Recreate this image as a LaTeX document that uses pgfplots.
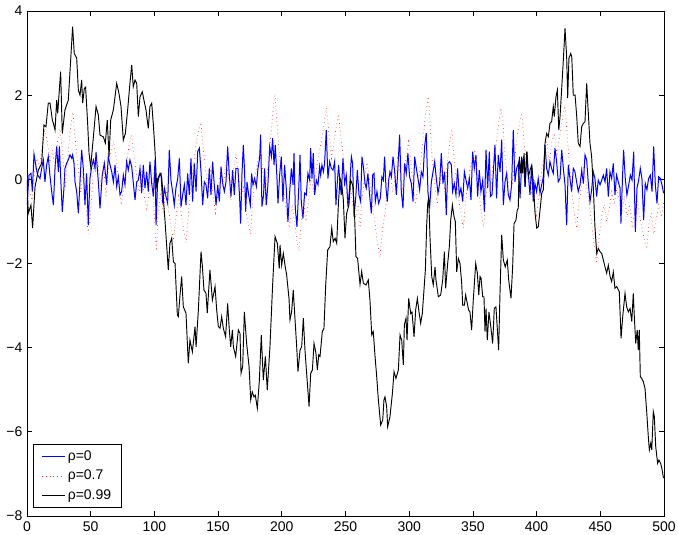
\documentclass[border=0pt]{standalone}
\usepackage{fontspec}
\setmainfont{Liberation Sans}
\usepackage{pgfplots}
\pgfplotsset{compat=1.18}
\begin{document}
\begin{tikzpicture}
\begin{axis}[
  scale only axis, width=477.75pt, height=378.75pt,
  xmin=0, xmax=500, ymin=-8, ymax=4,
  xtick={0,50,...,500},
  xticklabels={0,50,100,150,200,250,300,350,400,450,500},
  ytick={-8,-6,-4,-2,0,2,4},
  yticklabels={−8,−6,−4,−2,0,2,4},
  tick align=inside, tick pos=both, major tick length=4pt,
  tick style={black, line width=0.5pt},
  axis line style={line width=0.6pt},
  ticklabel style={font=\fontsize{10.5}{12.6}\selectfont},
  xticklabel style={yshift=-1pt},
  legend style={at={(0.0094,0.0158)}, anchor=south west, draw=black, line width=0.6pt,
    font=\fontsize{10.5}{12.6}\selectfont, row sep=2pt, inner xsep=6pt, inner ysep=2.5pt},
  legend cell align=left,
]
\addplot[blue, line width=0.75pt, no marks] coordinates {
(0,-0.61)(1.57,0.10)(3.14,0.14)(4.19,-0.29)(5.49,0.60)(7.06,0.30)(8.37,0.10)(10.2,0.02)(11.5,0.26)(12.8,0.46)(14.1,-0.06)(15.4,0.34)(16.7,0.54)(18.1,0.06)(19.4,-0.29)(20.7,-0.61)(22.0,0.26)(23.3,0.78)(24.6,0.18)(25.4,0.78)(26.7,-0.13)(27.7,-0.77)(29.0,-0.21)(29.8,0.26)(31.1,0.38)(32.4,0.46)(33.7,0.58)(35.1,0.50)(35.8,0.58)(36.9,0.38)(37.7,-0.06)(39.0,-0.29)(40.3,-0.81)(41.6,-0.06)(42.9,0.70)(44.2,0.26)(45.5,-0.61)(46.8,0.14)(48.1,-1.09)(49.4,0.02)(50.8,0.30)(52.1,0.46)(53.4,0.26)(54.2,0.65)(56.0,-0.06)(57.3,-0.69)(59.1,0.10)(60.7,0.38)(62.5,-0.13)(63.8,0.54)(65.2,0.34)(66.5,0.18)(67.8,-0.06)(69.1,0.34)(70.4,-0.17)(71.7,0.06)(73.0,-0.37)(74.3,-0.29)(75.6,0.10)(76.9,-0.13)(78.2,0.42)(79.5,0.22)(80.8,0.46)(82.2,0.30)(83.5,-0.10)(84.8,-0.49)(86.1,-0.06)(87.4,-0.02)(88.7,0.26)(90.0,-0.33)(91.3,0.34)(92.6,-0.21)(93.9,0.18)(95.2,-0.29)(96.5,0.42)(97.9,-0.10)(99.2,-0.41)(100.5,0.46)(101.3,-1.09)(102.6,0.02)(103.9,0.10)(105.2,0.14)(106.5,-0.57)(107.8,-0.21)(109.1,-0.41)(110.4,-0.57)(111.7,0.70)(113.0,-0.02)(114.3,-0.29)(115.6,-0.61)(116.9,-0.21)(118.3,0.02)(119.6,0.50)(120.9,-0.65)(122.2,-0.37)(123.5,-0.13)(124.8,-0.61)(126.1,0.14)(127.4,-0.37)(128.7,0.50)(130.0,-0.53)(131.3,0.38)(132.7,-0.29)(134.0,0.66)(135.3,0.74)(136.6,0.18)(137.9,-0.61)(139.2,-0.06)(140.5,-0.13)(141.8,-0.45)(143.1,0.26)(144.4,-0.37)(145.7,0.42)(147.0,-0.13)(148.4,-0.61)(149.7,-0.13)(151.0,-0.53)(152.3,0.30)(153.6,-0.10)(154.9,-0.29)(156.2,-0.06)(157.5,0.78)(158.8,0.10)(160.1,-0.41)(161.4,0.22)(162.7,-0.37)(164.0,0.26)
(165.6,0.26)(166.9,-0.45)(167.7,-1.05)(168.7,0.10)(169.8,0.82)(170.8,0.18)(171.6,-0.77)(172.7,-0.06)(174.0,-0.37)(175.3,-0.61)(176.3,0.14)(177.4,-0.13)(178.7,0.02)(180.0,-0.17)(181.3,0.26)(182.6,0.50)(183.4,1.06)(184.4,-0.65)(185.7,-0.37)(186.5,0.26)(187.8,-0.61)(189.1,-0.13)(190.5,0.78)(191.8,0.54)(192.8,0.98)(193.9,0.34)(194.9,0.82)(196.2,0.02)(197.0,-0.57)(198.3,0.10)(199.6,0.54)(200.9,-0.53)(202.2,0.34)(203.5,-0.21)(204.8,-1.01)(206.2,-0.29)(207.5,0.26)(208.8,-0.13)(209.6,0.62)(210.6,-0.69)(211.9,-1.13)(213.2,-0.29)(214.3,0.58)(215.3,-0.53)(216.6,-0.93)(217.9,-0.33)(219.2,-0.37)(220.5,0.14)(221.9,-0.02)(222.6,0.74)(223.7,0.02)(224.7,0.62)(225.8,-0.37)(227.1,-0.02)(228.4,-0.13)(229.7,0.30)(230.5,0.10)(231.5,0.34)(232.6,0.18)(233.6,0.38)(234.9,1.17)(236.2,0.02)(237.6,0.42)(238.9,0.26)(240.2,0.22)(241.5,0.42)(242.5,-0.61)(243.6,-0.06)(244.6,0.34)(245.7,-0.10)(246.7,-0.37)(248.0,0.50)(249.3,-0.10)(250.6,0.10)(251.9,-0.65)(253.2,-0.21)(254.6,0.54)(255.6,0.38)(256.7,-0.89)(258.0,-0.45)(259.3,0.22)(260.6,-0.37)(261.9,-0.53)(262.9,0.54)(264.2,0.26)(265.3,-0.10)(266.3,-0.21)(267.6,0.14)(268.9,-0.37)(270.3,-0.81)(271.3,0.10)(272.4,0.14)(273.4,-0.53)(274.7,-0.29)(276.0,-0.57)(277.3,-0.45)(278.6,0.06)(279.7,-0.02)(280.7,0.54)(281.8,-0.21)(282.8,-0.53)(283.9,-0.02)(284.9,0.18)(286.0,0.06)(287.3,0.54)(288.6,0.18)(289.9,-0.37)(291.2,0.30)(292.5,1.06)(293.8,-0.29)(295.1,-0.69)(296.4,0.38)(297.7,0.14)(299.0,0.62)(300.3,0.06)(301.7,-0.10)(303.0,-0.53)(304.3,0.54)(305.6,0.26)(306.9,0.02)(308.2,-0.25)(309.5,0.18)(310.8,0.06)(312.1,0.78)(313.4,1.10)(314.7,-0.29)(316.0,-0.69)(317.4,-0.06)(318.7,0.18)(320.0,0.42)(321.3,0.02)(322.6,-0.33)(323.9,-0.10)(325.2,0.62)(326.5,-0.10)(327.8,0.18)(329.1,-0.85)(330.4,0.38)(331.7,0.42)(333.1,0.34)
(334.1,-0.29)(335.4,-0.10)(336.7,-0.37)(338.0,0.26)(339.3,-0.37)(340.6,-0.21)(342.0,-0.53)(343.3,0.18)(344.6,-0.02)(345.9,-0.21)(347.2,0.02)(348.5,-0.49)(349.8,0.66)(351.1,0.26)(352.4,0.58)(353.7,-0.41)(355.0,0.22)(356.3,-0.29)(357.7,-0.02)(359.0,-0.77)(360.3,0.70)(361.6,-0.21)(362.9,0.66)(363.7,-0.41)(365.0,-0.37)(366.3,0.30)(367.3,0.82)(368.6,-0.45)(369.9,0.58)(371.3,0.18)(372.6,0.94)(373.9,-0.61)(375.2,-0.06)(376.5,0.14)(377.8,-0.37)(379.1,-0.49)(380.4,-0.13)(381.7,1.17)(383.0,-0.06)(384.3,0.26)(385.7,0.38)(387.0,-0.45)(388.3,0.38)(389.6,0.50)(390.9,-0.17)(392.5,0.66)(393.5,0.14)(394.8,-0.37)(396.1,0.34)(397.4,-0.53)(398.7,-0.10)(400.0,-0.29)(401.3,0.02)(402.7,-0.33)(404.0,-0.13)(405.3,0.06)(406.6,0.82)(407.9,0.26)(409.2,0.10)(410.5,0.42)(411.8,0.26)(413.1,0.14)(414.4,0.74)(415.7,0.42)(417.0,-0.06)(418.4,0.02)(419.7,0.70)(421.0,0.26)(422.3,-0.13)(423.6,-1.09)(424.9,0.34)(426.2,0.02)(427.5,-0.29)(428.8,0.26)(430.1,0.18)(431.4,-0.06)(432.7,-0.29)(434.1,-0.13)(435.4,0.22)(436.7,-0.10)(438.0,0.58)(439.3,0.46)(440.6,-0.10)(441.9,-0.53)(443.2,-0.25)(444.5,0.18)(445.8,0.02)(447.1,-0.41)(448.4,-0.02)(449.8,-0.13)(451.1,-0.02)(452.4,0.10)(453.7,-0.06)(455.0,0.26)(456.3,-0.41)(457.6,0.18)(458.9,0.02)(460.2,0.38)(461.5,-0.37)(462.8,0.10)(464.1,-0.06)(465.5,-0.21)(466.2,-1.05)(467.5,0.10)(468.3,0.70)(469.6,0.02)(470.9,-0.37)(472.3,-0.13)(473.6,0.10)(474.9,-0.02)(476.2,0.66)(477.5,-1.25)(478.8,-0.21)(480.1,-0.02)(481.4,0.26)(482.7,0.02)(484.0,-0.97)(485.3,-0.10)(486.6,-0.25)(487.9,0.02)(489.3,0.10)(490.6,-0.29)(491.9,0.78)(493.2,-0.13)(494.5,-0.57)(495.8,0.06)(497.1,0.02)(498.4,-0.13)(499.7,-0.33)
};
\addlegendentry{ρ=0}
\addplot[red!85, line width=0.5pt, dash pattern=on 0.5pt off 2.4pt, no marks] coordinates {
(0,0.1)(2,-0.3)(4,-0.5)(6,0.2)(8,0.5)(10,0.3)(12,0.8)(14,1.2)(16,0.9)(18,0.4)(20,0.7)(22,0.2)(24,0.9)(26,1.2)(28,0.6)(30,-0.2)(32,0.5)(34,1.2)(36,1.6)(38,0.9)(40,0.3)(42,-0.3)(44,0.2)(46,-0.5)(48,-1.3)(50,-0.8)(52,0.2)(54,0.6)(56,0.3)(58,-0.2)(60,0.4)(62,-0.4)(64,0.3)(66,0.7)(68,0.9)(70,0.5)(72,-0.1)(74,-0.6)(76,-0.2)(78,0.3)(80,0.8)(82,1.05)(84,0.6)(86,0.1)(88,-0.3)(90,0.2)(92,-0.4)(94,-0.7)(96,-0.3)(98,0.1)(100,-0.9)(101.5,-1.7)(103,-0.8)(105,-0.3)(107,-0.8)(109,-0.2)(111,-0.7)(113,-1.1)(115,-1.45)(117,-0.9)(119,-0.4)(121,-0.8)(123,-1.2)(125,-1.5)(127,-0.7)(129,-0.1)(131,0.4)(133,0.9)(135,1.2)(136.5,1.35)(138,0.8)(140,0.3)(142,-0.2)(144,0.3)(146,-0.4)(148,-0.8)(150,-0.3)(152,0.2)(154,-0.2)(156,0.4)(158,0.1)(160,-0.5)(162,0.2)(164,0.6)(166,0.1)(168,-0.4)(170,-0.2)(172,-0.8)(174,-1.1)(175.5,-1.3)(177,-0.6)(179,0.1)(181,0.4)(183,0.7)(185,0.2)(187,-0.3)(189,0.3)(191,0.9)(193,1.6)(194.7,2.04)(196,1.4)(198,0.6)(200,0.1)(202,-0.4)(204,-0.9)(206,-1.15)(208,-0.6)(210,-1.0)(212,-1.5)(213.5,-1.7)(215,-1.1)(217,-0.5)(219,-1.0)(221,-0.5)(223,0.1)(225,-0.3)(227,0.2)(229,0.6)(231,0.9)(233,1.3)(235,1.7)(237,1.1)(239,0.5)(241,0.9)(243,1.3)(244.5,1.55)(246,1.1)(248,0.6)(250,-0.1)(252,-0.6)(254,-0.2)(256,-0.7)(258,-0.9)(260,-0.6)(261.5,-1.15)(263,-0.5)(265,0.1)(267,0.4)(269,-0.1)(271,-0.6)(273,-1.0)(275,-1.5)(277,-1.85)(279,-1.2)(281,-0.8)(283,-0.3)(285,0.2)(287,-0.3)(289,0.1)(291,0.5)(293,0.2)(295,-0.3)(297,0.4)(299.5,0.9)(301,0.5)(303,-0.2)(305,-0.6)(307,-0.1)(309,0.4)(311,1.0)(313,1.6)(315,1.96)(316.5,1.3)(318,0.5)(320,-0.1)(322,-0.6)(324,-0.2)(326,0.3)(328,-0.3)(330,0.4)(332,0.9)(333.5,1.2)(335,0.6)(337,-0.1)(339,-0.5)(341,-0.9)(342.5,-1.15)(344,-0.6)(346,-0.1)(348,0.3)(350,0.5)(351.5,0.7)(353,0.2)(355,-0.4)(357,-0.9)(358.5,-1.15)(360,-0.5)(362,0.1)(364,-0.2)(366,0.4)(368,0.8)(370,1.3)(372,1.7)(373.5,1.4)(375,0.6)(377,0.1)(379,-0.4)(381,-0.1)(383,0.5)(385,1.1)(387,1.4)(388.5,1.57)(390,0.9)(392,0.4)(394,0.1)(396,-0.3)(398,-0.6)(400,-0.85)(402,-0.3)(404,0.2)(406,0.6)(408,0.9)(410,0.4)(412,0.9)(414,1.1)(416,0.6)(418,1.0)(420,1.4)(422.3,1.75)(424,1.0)(426,0.3)(428,-0.4)(430,-0.9)(431.5,-1.15)(433,-0.6)(435,-0.2)(437,0.3)(439,-0.1)(441,-0.5)(443,-1.0)(445,-1.5)(447,-2.0)(449,-1.4)(451,-0.9)(453,-0.6)(455,-1.0)(457,-0.7)(459,-0.3)(461,-0.6)(463,-0.2)(465,-0.5)(467,-0.8)(469,-0.4)(471,-0.9)(473,-0.6)(475,-1.1)(477,-0.8)(479,-0.5)(481,-0.9)(483,-1.2)(485,-1.5)(486.5,-1.65)(488,-1.1)(490,-0.8)(492,-1.3)(494,-0.9)(496,-0.6)(498,-0.9)(500,-0.5)
};
\addlegendentry{ρ=0.7}
\addplot[black, line width=0.7pt, no marks] coordinates {
(0,-0.02)(1,-0.81)(3.1,-0.61)(4.4,-1.16)(6.3,-0.18)(8.9,0.22)(11.5,0.38)(13.3,1.29)(14.9,1.25)(16.7,1.81)(18.1,1.81)(19.9,1.41)(20.7,1.33)(22,1.17)(23.3,1.88)(24.1,1.57)(26.4,2.56)(27.7,1.09)(29.8,1.65)(32.4,1.88)(34.3,2.84)(35.8,3.63)(37.1,2.99)(39,2.88)(40.3,2.12)(41.6,2.0)(42.9,2.36)(43.7,1.81)(45,2.16)(46,2.19)(47.6,1.33)(48.7,0.62)(50,0.3)(52,0.97)(54.2,1.73)(56,1.53)(57.3,1.05)(59.9,1.01)(61.5,0.86)(63,1.41)(64.4,0.54)(65.7,1.41)(67.8,1.65)(70.4,2.28)(72.2,2.04)(73.8,1.73)(75.6,0.93)(77.2,1.09)(79,1.65)(80.8,2.28)(82.2,2.72)(83.4,2.2)(84.8,2.36)(86.1,2.28)(87.4,1.49)(88.7,1.96)(90.5,2.08)(91.8,1.88)(93.4,1.65)(95.2,1.21)(96.5,1.73)(97.9,1.81)(99.2,1.29)(100.5,0.66)(101.8,-0.18)(103.1,-0.02)(104.4,0.14)(105.7,0.06)(107.5,-0.65)
(108.3,-0.97)(110.9,-2.15)(112.2,-1.52)(113.6,-1.40)(114.9,-1.96)(116.2,-2.0)(118.0,-3.22)(118.8,-3.26)(120.1,-2.75)(121.4,-2.31)(122.7,-3.03)(124.8,-3.18)(126.6,-4.37)(127.9,-3.82)(129.8,-4.1)(131.9,-3.5)(132.7,-3.98)(134.5,-3.11)(136.6,-1.72)(137.6,-2.04)(138.9,-2.63)(140.5,-2.71)(141.5,-3.18)(143.6,-2.15)(145.5,-2.87)(147.6,-2.55)(148.9,-3.11)(150.2,-3.5)(151.5,-3.54)(152.8,-3.26)(154.1,-3.54)(155.9,-3.74)(157.5,-2.95)(158.8,-3.58)(159.9,-3.98)(161.2,-3.58)(162,-3.98)(163.8,-4.21)(165.9,-3.58)(167.2,-3.66)(168,-4.61)(169.3,-4.45)(170.6,-3.15)(172.4,-3.9)(174.3,-4.45)(175.6,-5.24)(176.8,-5.05)(178.2,-5.17)(179.2,-5.13)(180.8,-5.44)(182.4,-4.77)(183.9,-3.7)(185.5,-4.77)(187.1,-4.21)(188.6,-5.01)(190.7,-3.98)(192.8,-2.51)(194.7,-1.36)(196.5,-1.52)(198.0,-2.12)
(198.6,-1.56)(199.9,-2.04)(201.2,-1.76)(202.5,-2.04)(203.8,-2.27)(205.7,-2.85)(206.4,-3.34)(207.7,-3.15)(209,-2.63)(210.4,-3.34)(211.7,-3.98)(212.7,-4.57)(214.3,-4.06)(215.6,-3.98)(216.9,-3.30)(218.2,-4.06)(219.5,-4.61)(221.4,-5.40)(222.7,-4.61)(224,-4.53)(225.3,-3.9)(226.8,-4.13)(227.9,-4.53)(229,-4.17)(230,-4.21)(231.8,-3.62)(233.1,-3.54)(234.4,-2.55)(236,-1.68)(237.8,-1.6)(239.2,-1.16)(240.4,-1.48)(241.8,-1.40)(243.1,-1.52)(244.4,-0.6)(245.7,0.03)(247,-0.1)(248.3,-0.49)(249.6,-1.40)(250.9,-0.81)(252.7,-0.61)(254,-0.02)(255.6,-0.13)(256.9,-0.65)(258.2,-1.84)(259.5,-1.88)(261.4,-2.5)(262.7,-2.19)(264,-2.47)(266.1,-2.51)(267.9,-2.39)(269.2,-2.87)(270.6,-3.70)(271.8,-3.62)(273.2,-4.21)(274.5,-4.69)(275.8,-5.24)(277.6,-5.84)(279.2,-5.72)(280.2,-5.24)(281,-5.17)(282.3,-5.40)(283.1,-5.88)(284.9,-5.64)(286.8,-5.09)(288.1,-4.57)(289.6,-4.73)(291.5,-4.53)(292.8,-3.70)(294.1,-3.82)(295.4,-4.41)(296.2,-3.46)(297.5,-3.30)(298.3,-3.82)(299.6,-2.83)(301.2,-3.19)(302.2,-3.15)(303.8,-3.74)(305.1,-3.1)(306.4,-2.83)(307.7,-3.15)(309,-3.42)(310.3,-3.19)(311.6,-2.63)(312.7,-2.15)(313.7,-1.11)(314.5,-0.6)(315.3,-0.41)(316.3,-1.36)(317.7,-2.31)(318.9,-2.51)(320.3,-2.08)(321,-2.39)(322.9,-2.79)(324.7,-2.75)(326.3,-2.39)(327.6,-1.72)(328.6,-2.59)(330.2,-2.0)(331.5,-1.6)(332.6,-0.97)(333.9,-0.61)(335.2,-0.89)(336.2,-1.0)(337.3,-2.2)(338.6,-1.88)(339.9,-2.0)(341.2,-2.47)(342,-2.99)(343.3,-2.99)(344.3,-2.75)(345.6,-2.95)(346.7,-3.11)(347.7,-3.15)(349,-3.58)(350.3,-2.87)(352.2,-2.0)(353.5,-2.23)(354.6,-2.75)(355.6,-2.31)(356.4,-2.35)(357.7,-2.79)(358.7,-2.79)(359.5,-3.62)(360.3,-3.07)(361.3,-3.82)(362.6,-3.15)(364.2,-3.54)(365.5,-3.9)(366.8,-3.07)(368.1,-3.03)(370.2,-4.06)(371.2,-2.79)(372.6,-1.32)(373.9,-1.92)(375.4,-2.08)(377,-1.92)(378.1,-2.39)(379.9,-2.83)(381.2,-2.08)(382.3,-1.05)(383.8,-0.97)(384.8,-0.73)(385.6,-0.69)(386.4,0.54)(387.5,0.14)(388.3,0.54)(389.1,0.14)(390.2,0.62)(391,-0.18)(392.2,0.66)(393.5,0.06)(394.9,0.22)(396.2,0.34)(397.5,-0.1)(398.8,-0.81)(400.1,-1.16)(401.3,-1.13)(402.7,-0.73)(404,-0.33)(405.3,-0.25)(406.6,0.86)(407.9,1.09)(409.2,1.01)(410.5,1.33)(411.8,1.37)(413.1,1.73)(413.9,1.49)(415.2,1.96)(416.3,2.12)(417.4,1.17)(418.4,1.49)(419.7,2.16)(421,2.84)(422.3,3.59)(423.6,2.91)(424.4,1.93)(425.4,2.88)(426.8,2.99)(427.6,2.91)(428.8,2.0)(430.2,2.0)(431.5,1.49)(432.7,0.86)(434.1,0.78)(435.4,1.25)(436.7,1.33)(438,1.37)(439.3,2.28)(440.6,1.57)(441.9,0.86)(443.2,0.54)(444.5,-0.18)(445.8,-1.13)(447.2,-1.76)(448.4,-1.64)(449.8,-1.72)(451.1,-1.76)(452.4,-1.92)(453.7,-2.08)(455,-2.23)(456.3,-2.04)(457.7,-2.31)(458.9,-2.43)(460.2,-2.2)(461.5,-2.59)(462.9,-2.55)(464.9,-2.67)(466.3,-3.78)(467.6,-3.26)(469.4,-2.71)(470.7,-3.03)(472,-3.15)(473.4,-3.07)(474.7,-3.38)(475.9,-2.71)(476.7,-3.26)(477.8,-3.9)(479,-3.58)(479.8,-4.06)(480.6,-3.58)(481.4,-4.69)(482.5,-4.73)(483.8,-4.81)(485.1,-4.97)(486.5,-5.56)(487.7,-6.12)(488.5,-6.43)(489.6,-6.27)(490.4,-6.43)(491.6,-5.52)(492.4,-5.64)(493.5,-6.35)(495,-6.75)(496,-6.67)(497.4,-6.75)(498.6,-6.91)(499.4,-7.07)(500,-7.1)
};
\addlegendentry{ρ=0.99}
\end{axis}
\pgfresetboundingbox
\path ([shift={(-20.25pt,-14.25pt)}]current axis.south west) rectangle ([shift={(10.5pt,8.25pt)}]current axis.north east);
\end{tikzpicture}
\end{document}
